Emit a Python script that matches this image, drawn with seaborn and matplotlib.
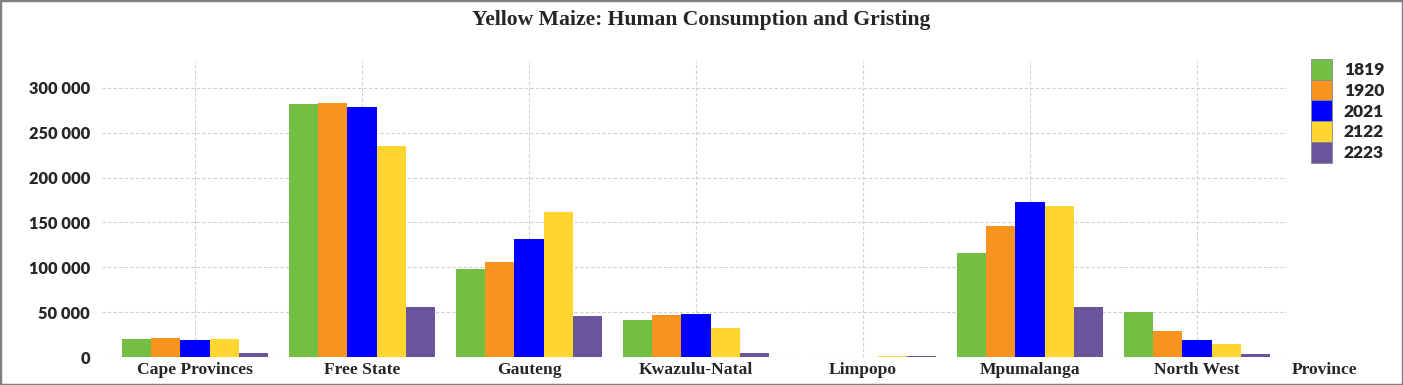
import matplotlib.pyplot as plt
import matplotlib.ticker as mticker
from matplotlib.patches import Patch, Rectangle
import pandas as pd
import seaborn as sns

# Data
provinces = ["Cape Provinces", "Free State", "Gauteng", "Kwazulu-Natal",
             "Limpopo", "Mpumalanga", "North West"]
seasons = ["1819", "1920", "2021", "2122", "2223"]

s1819 = [20300, 281800, 98100, 41800, 0, 116000, 50400]
s1920 = [21700, 283300, 105600, 46300, 0, 146000, 29500]
s2021 = [18800, 279000, 131600, 48200, 0, 172500, 18800]
s2122 = [20300, 235600, 162000, 32500, 1500, 168000, 14300]
s2223 = [5000, 56000, 46000, 5000, 1500, 55800, 3000]

colors = ["#72BF44", "#F7931E", "#0000FF", "#FFD530", "#6A559C"]

rows = []
for season, vals in zip(seasons, [s1819, s1920, s2021, s2122, s2223]):
    for prov, v in zip(provinces, vals):
        rows.append({"province": prov, "season": season, "value": v})
df = pd.DataFrame(rows)

sns.set_theme(style="white")
serif = "Liberation Serif"
sans = "Lato"
plt.rcParams["font.family"] = [sans, "DejaVu Sans"]

fig = plt.figure(figsize=(14.03, 3.85), dpi=100)
ax = fig.add_axes([102 / 1403, 28 / 385, (1287 - 102) / 1403, (357 - 61) / 385])

sns.barplot(data=df, x="province", y="value", hue="season", order=provinces,
            hue_order=seasons, palette=colors, width=0.87, saturation=1,
            errorbar=None, linewidth=0, ax=ax)

ax.set_xlim(-0.557, 6.539)
ax.set_ylim(0, 330000)
ax.set_yticks(range(0, 300001, 50000))
ax.yaxis.set_major_formatter(mticker.FuncFormatter(lambda v, p: f"{int(v):,}".replace(",", " ")))

ax.grid(True, axis="both", color="#d0d0d0", linestyle=(0, (3, 2)), linewidth=0.8)
ax.set_axisbelow(True)
for s in ax.spines.values():
    s.set_visible(False)

ax.tick_params(axis="both", length=0)
ax.tick_params(axis="y", pad=8.5)
ax.tick_params(axis="x", pad=3.5)
for lab in ax.get_yticklabels():
    lab.set_fontfamily(sans)
    lab.set_fontweight("heavy")
    lab.set_fontsize(11.8)
for lab in ax.get_xticklabels():
    lab.set_fontfamily(serif)
    lab.set_fontweight("bold")
    lab.set_fontsize(12.6)
ax.set_xlabel("")
ax.set_ylabel("")

# Legend
ax.get_legend().remove()
handles = [Patch(facecolor=c, edgecolor="#8a8a8a", linewidth=0.6) for c in colors]
fig.legend(handles, seasons, loc="upper left",
           bbox_to_anchor=(1311 / 1403, (385 - 59) / 385),
           bbox_transform=fig.transFigure, frameon=False, borderpad=0,
           borderaxespad=0, labelspacing=0, handlelength=1.21, handleheight=1.46,
           handletextpad=0.69, prop={"family": sans, "weight": "heavy", "size": 12.5})

fig.text(0.5, 1 - 20 / 385, "Yellow Maize: Human Consumption and Gristing",
         ha="center", va="center", fontfamily=serif, fontweight="bold", fontsize=15.6)
fig.text(1325 / 1403, 1 - 370 / 385, "Province", ha="center", va="center",
         fontfamily=serif, fontweight="bold", fontsize=12.6)

fig.patches.append(Rectangle((0, 0), 1, 1, transform=fig.transFigure, fill=False,
                             edgecolor="#808080", linewidth=2.5))

fig.savefig("out.png", dpi=100)
